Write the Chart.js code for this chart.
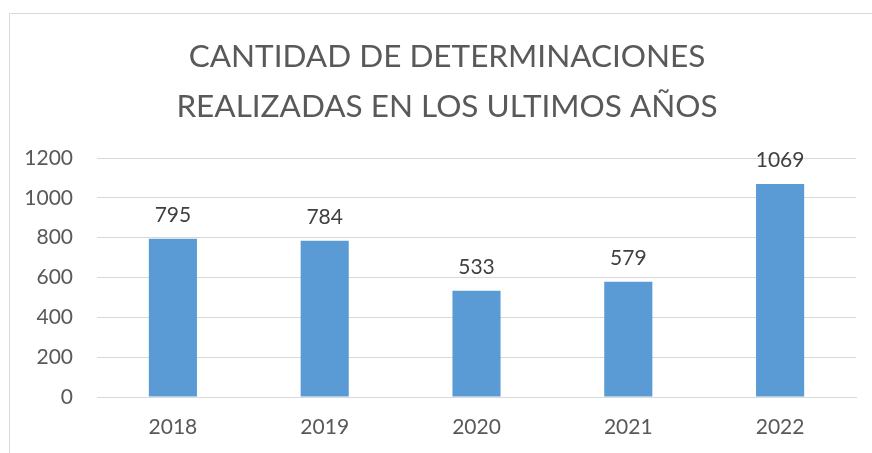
<!DOCTYPE html>
<html>
<head>
<meta charset="utf-8">
<script src="https://cdn.jsdelivr.net/npm/chart.js@4/dist/chart.umd.min.js"></script>
<style>
html,body{margin:0;padding:0;background:#fff;}
#wrap{width:872px;height:453px;position:relative;}
</style>
</head>
<body>
<div id="wrap"><canvas id="c" width="872" height="453"></canvas></div>
<script>
const categories = ["2018", "2019", "2020", "2021", "2022"];
const values = [795, 784, 533, 579, 1069];
const titleLines = ["CANTIDAD DE DETERMINACIONES", "REALIZADAS EN LOS ULTIMOS AÑOS"];
const yTicks = [0, 200, 400, 600, 800, 1000, 1200];

const FONT = "Lato, 'Open Sans', sans-serif";

const framePlugin = {
  id: 'frame',
  beforeDraw(chart) {
    const ctx = chart.ctx;
    ctx.save();
    ctx.fillStyle = '#fff';
    ctx.fillRect(0, 0, chart.width, chart.height);
    ctx.strokeStyle = '#d9d9d9';
    ctx.lineWidth = 1;
    ctx.beginPath();
    ctx.moveTo(9.5, chart.height + 5);
    ctx.lineTo(9.5, 13.5);
    ctx.lineTo(chart.width + 5, 13.5);
    ctx.stroke();
    // title
    ctx.fillStyle = '#595959';
    ctx.font = "31.5px " + FONT;
    ctx.textAlign = 'center';
    ctx.textBaseline = 'alphabetic';
    ctx.fillText(titleLines[0], 447, 67);
    ctx.fillText(titleLines[1], 447, 117);
    ctx.restore();
  }
};

const labelPlugin = {
  id: 'barLabels',
  afterDatasetsDraw(chart) {
    const ctx = chart.ctx;
    const meta = chart.getDatasetMeta(0);
    ctx.save();
    ctx.font = "21px " + FONT;
    ctx.fillStyle = '#404040';
    ctx.textAlign = 'center';
    ctx.textBaseline = 'alphabetic';
    meta.data.forEach((bar, i) => {
      ctx.fillText(String(values[i]), bar.x, bar.y - 17);
    });
    ctx.restore();
  }
};

new Chart(document.getElementById('c'), {
  type: 'bar',
  data: {
    labels: categories,
    datasets: [{
      data: values,
      backgroundColor: '#5B9BD5',
      borderWidth: 0,
      barPercentage: 0.317,
      categoryPercentage: 1.0
    }]
  },
  options: {
    responsive: false,
    animation: false,
    devicePixelRatio: 1,
    layout: { padding: { left: 0, right: 16, top: 158, bottom: 0 } },
    plugins: {
      legend: { display: false },
      tooltip: { enabled: false },
      title: { display: false }
    },
    scales: {
      x: {
        grid: { display: false, drawTicks: false },
        border: { display: true, color: '#d9d9d9', width: 1 },
        ticks: { color: '#595959', font: { family: FONT, size: 21 }, padding: 18 },
        afterFit(scale) { scale.height = 56; }
      },
      y: {
        min: 0, max: 1200,
        afterBuildTicks(scale) { scale.ticks = yTicks.map(v => ({ value: v })); },
        grid: { color: '#d9d9d9', lineWidth: 1, drawTicks: false },
        border: { display: false },
        ticks: { color: '#595959', font: { family: FONT, size: 21 }, padding: 24,
                 callback: (v) => String(v) },
        afterFit(scale) { scale.width = 97; }
      }
    }
  },
  plugins: [framePlugin, labelPlugin]
});
</script>
</body>
</html>
